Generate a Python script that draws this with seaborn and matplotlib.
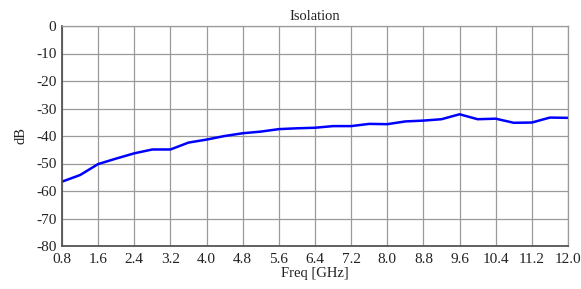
import matplotlib
matplotlib.use("Agg")
import matplotlib.pyplot as plt
import seaborn as sns
import pandas as pd
import numpy as np

# values
freq_ghz = [0.8, 1.2, 1.6, 2.0, 2.4, 2.8, 3.2, 3.6, 4.0, 4.4, 4.8, 5.2, 5.6, 6.0,
            6.4, 6.8, 7.2, 7.6, 8.0, 8.4, 8.8, 9.2, 9.6, 10.0, 10.4, 10.8, 11.2,
            11.6, 12.0]
isolation_db = [-56.6, -54.2, -50.2, -48.2, -46.3, -44.9, -44.9, -42.4, -41.3,
                -40.0, -39.0, -38.4, -37.5, -37.2, -37.0, -36.4, -36.4, -35.6,
                -35.7, -34.7, -34.4, -33.9, -32.1, -33.9, -33.7, -35.2, -35.1,
                -33.3, -33.4]
x_ticks = [0.8, 1.6, 2.4, 3.2, 4.0, 4.8, 5.6, 6.4, 7.2, 8.0, 8.8, 9.6, 10.4, 11.2, 12.0]
y_ticks = [0, -10, -20, -30, -40, -50, -60, -70, -80]

df = pd.DataFrame({"freq": freq_ghz, "db": isolation_db})

sns.set_style("white")
plt.rcParams["font.family"] = ["Liberation Serif", "DejaVu Serif"]

fig = plt.figure(figsize=(5.81, 2.89), dpi=100)
ax = fig.add_axes([62 / 581, 1 - 246 / 289, (568 - 62) / 581, (246 - 26) / 289])

sns.lineplot(data=df, x="freq", y="db", ax=ax, color="#0000ff", linewidth=1.8)

ax.set_xlim(0.8, 12.0)
ax.set_ylim(-80, 0)
ax.set_xticks(x_ticks)
ax.set_xticklabels([f"{t:.1f}" for t in x_ticks])
ax.set_yticks(y_ticks)
ax.set_yticklabels([str(t) for t in y_ticks])
ax.grid(True, color="#9a9a9a", linewidth=0.9)
ax.set_axisbelow(True)

for side in ["top", "right"]:
    ax.spines[side].set_color("#9a9a9a")
    ax.spines[side].set_linewidth(0.9)
for side in ["left", "bottom"]:
    ax.spines[side].set_color("#555555")
    ax.spines[side].set_linewidth(1.3)

ax.tick_params(axis="y", labelsize=11, length=0, pad=4, colors="#222222")
ax.tick_params(axis="x", labelsize=11, length=0, pad=5, colors="#222222")
ax.set_title("Isolation", fontsize=10.5, pad=4, color="#222222")
ax.set_xlabel("Freq [GHz]", fontsize=10.5, labelpad=1, color="#222222")
ax.set_ylabel("dB", fontsize=10.5, labelpad=6, color="#222222")

fig.savefig("out.png", dpi=100)
